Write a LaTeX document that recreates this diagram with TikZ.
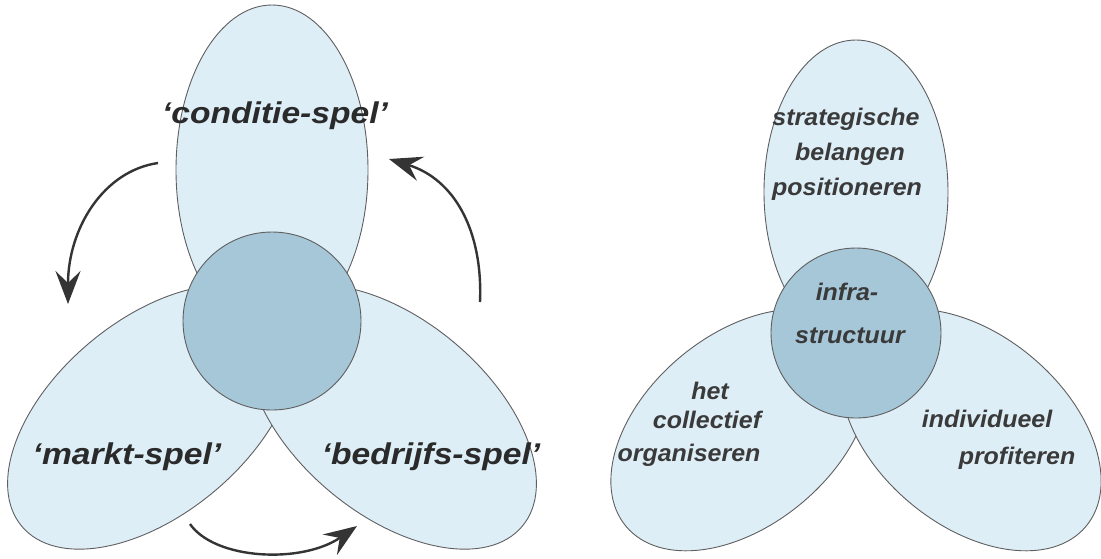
\documentclass[tikz,border=0pt]{standalone}
\usepackage{fontspec}
\setmainfont{Liberation Sans}
\usetikzlibrary{shapes.geometric,arrows.meta}
\definecolor{petal}{RGB}{222,238,247}
\definecolor{hub}{RGB}{166,199,216}
\definecolor{rim}{RGB}{95,95,95}
\definecolor{ink}{RGB}{42,42,42}
\definecolor{inkgrey}{RGB}{58,58,58}
\definecolor{arrowink}{RGB}{52,52,52}
\begin{document}
\begin{tikzpicture}[x=1pt,y=-1pt,
  petalnode/.style={ellipse, draw=rim, fill=petal, line width=0.9pt, inner sep=0pt, outer sep=0pt},
  hubnode/.style={circle, draw=rim, fill=hub, line width=0.9pt, inner sep=0pt, outer sep=0pt},
  biglabel/.style={anchor=base, inner sep=0pt, text=ink, xscale=1.12,
    font=\fontsize{30}{36}\selectfont\bfseries\itshape},
  smalllabel/.style={anchor=base, inner sep=0pt, text=inkgrey, xscale=1.04,
    font=\fontsize{24}{29}\selectfont\bfseries\itshape},
  cyclearrow/.style={draw=arrowink, line width=2.4pt,
    -{Stealth[length=33pt,width=25pt,inset=12pt]}}]
\useasboundingbox (0,0) rectangle (1101,558);
\fill[white] (0,0) rectangle (1101,558);

% ---- left trefoil: the three games around a common core ----
\node[petalnode, minimum width=192pt, minimum height=330pt] (gameTop) at (272,170) {};
\node[petalnode, minimum width=340pt, minimum height=194pt, rotate=40] (gameLeft) at (152,417) {};
\node[petalnode, minimum width=340pt, minimum height=194pt, rotate=-40] (gameRight) at (392,417) {};
\node[hubnode, minimum size=178pt] (gameCore) at (272,321) {};

\node[biglabel] (lblConditie) at (275,123) {‘conditie-spel’};
\node[biglabel] (lblMarkt) at (127,464) {‘markt-spel’};
\node[biglabel] (lblBedrijfs) at (431,464) {‘bedrijfs-spel’};

% cycle arrows
\coordinate (c1s) at (158,163);
\coordinate (c1e) at (68,304);
\coordinate (c2s) at (480,302);
\coordinate (c2e) at (389,159);
\coordinate (c3s) at (190,524);
\coordinate (c3e) at (357,526);
\draw[cyclearrow] (c1s) .. controls +(-55,8) and +(0,-75) .. (c1e);
\draw[cyclearrow] (c2s) .. controls +(3,-72) and +(65,20) .. (c2e);
\draw[cyclearrow] (c3s) .. controls +(25,36) and +(-55,38) .. (c3e);

% ---- right trefoil: roles around the infrastructure ----
\node[petalnode, minimum width=184pt, minimum height=304pt] (roleTop) at (856,192) {};
\node[petalnode, minimum width=300pt, minimum height=190pt, rotate=40] (roleLeft) at (741,430) {};
\node[petalnode, minimum width=300pt, minimum height=190pt, rotate=-40] (roleRight) at (971,430) {};
\node[hubnode, minimum size=170pt] (roleCore) at (856,333) {};

\node[smalllabel] (t1) at (846,125) {strategische};
\node[smalllabel] (t2) at (850,160) {belangen};
\node[smalllabel] (t3) at (847,195) {positioneren};
\node[smalllabel] (m1) at (847,300) {infra-};
\node[smalllabel] (m2) at (850,343) {structuur};
\node[smalllabel] (l1) at (710,399) {het};
\node[smalllabel] (l2) at (707,428) {collectief};
\node[smalllabel] (l3) at (689,461) {organiseren};
\node[smalllabel] (r1) at (987,427) {individueel};
\node[smalllabel] (r2) at (1017,464) {profiteren};
\end{tikzpicture}
\end{document}
